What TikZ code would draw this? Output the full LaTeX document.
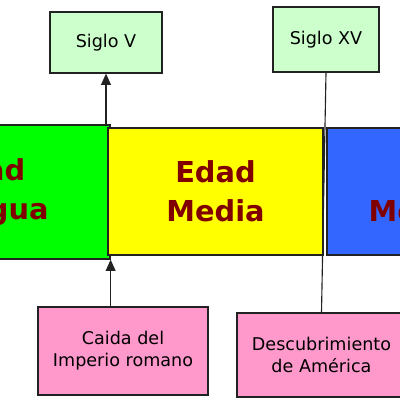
\documentclass[tikz,border=0pt]{standalone}
\usepackage{fontspec}
\setmainfont{DejaVu Sans}
\usetikzlibrary{arrows.meta}
\definecolor{lgreen}{HTML}{CCFFCC}
\definecolor{vgreen}{HTML}{00FF00}
\definecolor{vyellow}{HTML}{FFFF00}
\definecolor{vblue}{HTML}{3366FF}
\definecolor{vpink}{HTML}{FF99CC}
\definecolor{dred}{HTML}{800000}
\definecolor{edge}{HTML}{222222}
\tikzset{
  box/.style={draw=edge, line width=0.9pt, rectangle, inner sep=0pt, align=center},
  era/.style={box, font=\fontsize{20.5}{27.5}\selectfont\bfseries, text=dred},
  small/.style={box, font=\fontsize{12.5}{15.8}\selectfont, text=black},
  conn/.style={draw=edge, line width=0.8pt},
  tip/.style={-{Triangle[width=7pt,length=8pt]}}
}
\begin{document}
\begin{tikzpicture}[x=0.025cm, y=-0.025cm]
\useasboundingbox (0,0) rectangle (400,400);
\clip (0,0) rectangle (400,400);
\fill[white] (0,0) rectangle (400,400);
% era boxes
\node[era, fill=vgreen, minimum width=250*0.025cm, minimum height=134*0.025cm] (green) at (-15,192) {Edad\\Antigua};
\node[era, fill=vyellow, minimum width=215*0.025cm, minimum height=127*0.025cm] (yellow) at (215.5,191.5) {Edad\\Media};
\node[era, fill=vblue, minimum width=226*0.025cm, minimum height=127*0.025cm] (blue) at (440,191.5) {Edad\\Moderna};
% century boxes
\node[small, fill=lgreen, minimum width=112*0.025cm, minimum height=61*0.025cm] (sv) at (106,42.5) {Siglo V};
\node[small, fill=lgreen, minimum width=106*0.025cm, minimum height=65*0.025cm] (sxv) at (326,39.5) {Siglo XV};
% event boxes
\node[small, fill=vpink, minimum width=170*0.025cm, minimum height=88*0.025cm] (caida) at (123,351) {Caida del\\Imperio romano};
\node[small, fill=vpink, minimum width=169*0.025cm, minimum height=84*0.025cm] (desc) at (321.5,355) {Descubrimiento\\de América};
% connectors
\draw[conn, tip] (sv.south |- green.north) -- (sv.south);
\draw[conn, tip] (caida.north -| green.south east) -- (green.south east);
\draw[conn] (sxv.south) -- (desc.north);
\end{tikzpicture}
\end{document}
